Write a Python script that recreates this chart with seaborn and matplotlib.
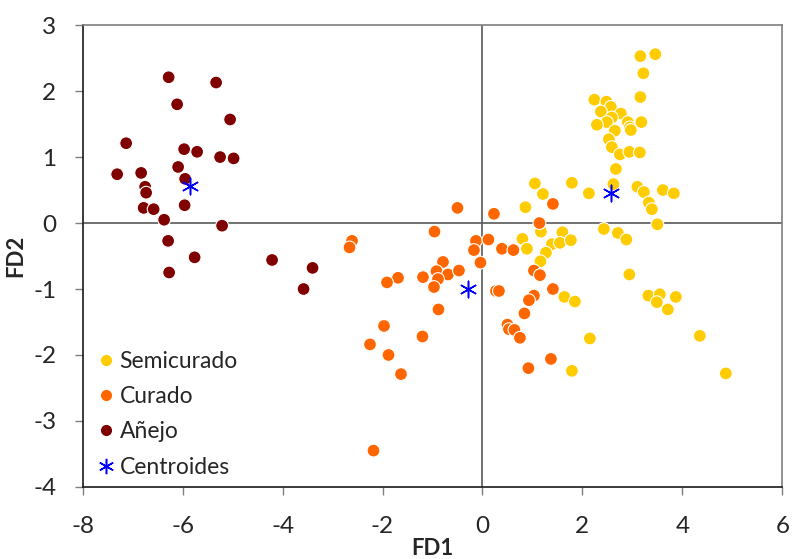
import matplotlib
matplotlib.use("Agg")
import matplotlib.pyplot as plt
import seaborn as sns
import pandas as pd
from matplotlib.lines import Line2D

# Data
semi_x = [3.16, 3.46, 3.22, 3.16, 2.24, 2.48, 2.57, 2.37, 2.77, 2.59, 2.49, 2.29, 2.91, 2.95, 2.97,
          3.18, 2.65, 2.53, 2.59, 2.75, 2.94, 3.15, 2.67, 1.79, 2.13, 2.62, 3.10, 3.23, 3.61, 3.83,
          3.33, 3.39, 1.05, 1.21, 3.50, 0.86, 2.43, 2.71, 2.88, 1.17, 1.60, 0.80, 0.89, 1.39, 1.55,
          1.77, 1.27, 1.16, 2.94, 1.64, 1.85, 3.32, 3.55, 3.49, 3.87, 3.71, 2.15, 4.35, 1.79, 4.87]
semi_y = [2.53, 2.56, 2.27, 1.91, 1.87, 1.84, 1.76, 1.69, 1.66, 1.60, 1.53, 1.49, 1.53, 1.45, 1.41,
          1.53, 1.40, 1.27, 1.15, 1.04, 1.08, 1.07, 0.82, 0.61, 0.45, 0.59, 0.55, 0.47, 0.50, 0.45,
          0.31, 0.21, 0.60, 0.44, -0.02, 0.24, -0.09, -0.15, -0.25, -0.13, -0.14, -0.24, -0.39, -0.32, -0.30,
          -0.26, -0.45, -0.58, -0.78, -1.12, -1.19, -1.10, -1.08, -1.20, -1.12, -1.31, -1.75, -1.71, -2.24, -2.28]

cur_x = [-0.50, 0.23, 1.41, 1.14, -0.96, -2.61, -2.66, -0.13, 0.12, -0.17, 0.39, 0.62, -0.04, -0.79,
         -0.92, -0.69, -0.47, -0.89, -0.97, -1.19, -1.69, -1.91, 1.03, 1.15, 1.41, 0.27, 0.33, 1.03,
         0.93, -0.88, 0.84, -1.97, -1.20, 0.50, 0.53, 0.64, 0.75, -2.25, -1.88, -1.63, 1.37, 0.92, -2.18]
cur_y = [0.23, 0.14, 0.29, 0.00, -0.13, -0.27, -0.37, -0.27, -0.25, -0.41, -0.39, -0.41, -0.60, -0.59,
         -0.73, -0.78, -0.72, -0.85, -0.97, -0.82, -0.83, -0.90, -0.72, -0.79, -1.00, -1.03, -1.03, -1.10,
         -1.17, -1.31, -1.37, -1.56, -1.72, -1.54, -1.61, -1.62, -1.74, -1.84, -2.00, -2.29, -2.06, -2.20, -3.45]

ane_x = [-6.28, -5.33, -6.11, -5.05, -7.13, -5.97, -5.71, -5.25, -4.98, -7.31, -6.83, -6.09, -5.95,
         -6.75, -6.73, -5.96, -6.78, -6.58, -6.37, -5.21, -6.29, -5.76, -6.27, -4.21, -3.40, -3.58]
ane_y = [2.21, 2.13, 1.80, 1.57, 1.21, 1.12, 1.08, 1.00, 0.98, 0.74, 0.76, 0.85, 0.67,
         0.55, 0.46, 0.27, 0.23, 0.21, 0.05, -0.04, -0.27, -0.52, -0.75, -0.56, -0.68, -1.00]

cent_x = [2.57, -0.29, -5.85]
cent_y = [0.45, -1.00, 0.56]

groups = ["Semicurado", "Curado", "Añejo"]
colors = ["#FFCC00", "#FF6600", "#800000"]
x_ticks = [-8, -6, -4, -2, 0, 2, 4, 6]
y_ticks = [-4, -3, -2, -1, 0, 1, 2, 3]

df = pd.DataFrame({
    "FD1": semi_x + cur_x + ane_x,
    "FD2": semi_y + cur_y + ane_y,
    "grupo": [groups[0]] * len(semi_x) + [groups[1]] * len(cur_x) + [groups[2]] * len(ane_x),
})

sns.set_style("white")
plt.rcParams["font.family"] = ["Lato", "DejaVu Sans"]
plt.rcParams["axes.unicode_minus"] = False

fig = plt.figure(figsize=(7.95, 5.59), dpi=100)
ax = fig.add_axes([0.104, 0.129, 0.880, 0.826])

ax.axhline(0, color="#595959", lw=1.2, zorder=1)
ax.axvline(0, color="#595959", lw=1.2, zorder=1)

sns.scatterplot(data=df, x="FD1", y="FD2", hue="grupo", hue_order=groups,
                palette=dict(zip(groups, colors)), s=85, edgecolor="white",
                linewidth=0.8, ax=ax, zorder=3, legend=False)
ax.scatter(cent_x, cent_y, marker=(6, 2, 0), s=140, color="#0000FF", linewidths=1.1, zorder=4)

ax.set_xlim(-8, 6)
ax.set_ylim(-4, 3)
ax.set_xticks(x_ticks)
ax.set_yticks(y_ticks)
ax.tick_params(axis="both", labelsize=17.5, direction="out", length=6, width=1,
               color="#7f7f7f", left=True, bottom=True)
ax.tick_params(axis="x", pad=15)
ax.tick_params(axis="y", pad=13)
for name, sp in ax.spines.items():
    sp.set_visible(True)
    sp.set_linewidth(1.2)
    sp.set_color("#1a1a1a" if name in ("left", "bottom") else "#7f7f7f")
ax.set_xlabel("FD1", fontsize=16, fontweight="bold", labelpad=1)
ax.set_ylabel("FD2", fontsize=16, fontweight="bold", labelpad=5)

handles = [Line2D([], [], marker="o", ls="", color=c, markersize=7) for c in colors]
handles.append(Line2D([], [], marker=(6, 2, 0), ls="", color="#0000FF", markersize=11, markeredgewidth=1.1))
ax.legend(handles, groups + ["Centroides"], loc="lower left", frameon=False, fontsize=16.5,
          handletextpad=0.0, labelspacing=0.62, bbox_to_anchor=(-0.008, -0.012), borderaxespad=0.25,
          handlelength=1.2)

fig.savefig("out.png", dpi=100)
